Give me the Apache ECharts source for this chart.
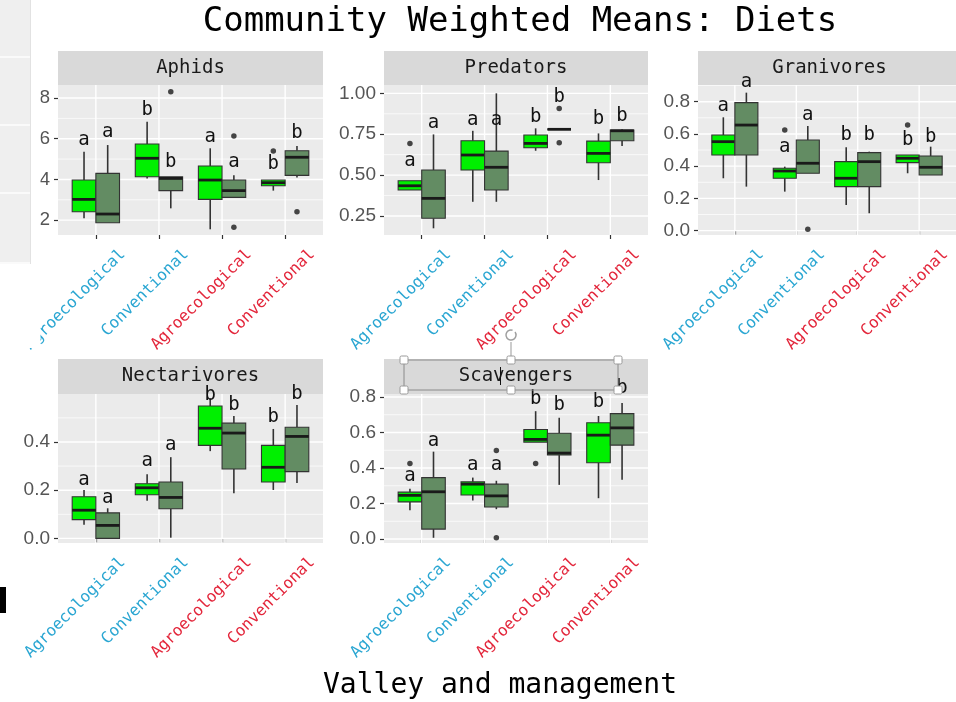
<!DOCTYPE html>
<html><head><meta charset="utf-8">
<script src="https://cdn.jsdelivr.net/npm/echarts@6/dist/echarts.min.js"></script>
<style>html,body{margin:0;padding:0;background:#fff}#c{width:956px;height:702px}</style>
</head><body><div id="c"></div>
<script>
// ---------------- DATA ----------------
const categories = ['Agroecological', 'Conventional', 'Agroecological', 'Conventional'];
const valleyOfCategory = [0, 0, 1, 1];
const panelNames = ['Aphids', 'Predators', 'Granivores', 'Nectarivores', 'Scavengers'];

// box stats per category: [lowerWhisker, Q1, median, Q3, upperWhisker]
const aphidsLight = [[0.209,0.241,0.302,0.397,0.536],[0.405,0.413,0.504,0.574,0.684],[0.155,0.302,0.397,0.466,0.553],[0.345,0.369,0.384,0.397,0.397]];
const aphidsDark  = [[0.187,0.187,0.230,0.430,0.569],[0.258,0.345,0.405,0.413,0.413],[0.312,0.312,0.345,0.397,0.420],[0.410,0.420,0.509,0.541,0.564]];
const aphidsLightOut = [[3,0.540]];
const aphidsDarkOut  = [[1,0.831],[2,0.613],[2,0.165],[3,0.241]];
const aphidsLightLetters = ['a','b','a','b'];
const aphidsDarkLetters  = ['a','b','a','b'];
const aphidsLightLetterY = [0.594,0.741,0.610,0.476];
const aphidsDarkLetterY  = [0.634,0.487,0.487,0.627];
const aphidsTicks = [0.2,0.4,0.6,0.8];

const predatorsLight = [[0.409,0.409,0.435,0.466,0.466],[0.337,0.531,0.623,0.710,0.771],[0.649,0.667,0.694,0.745,0.786],[0.470,0.576,0.633,0.708,0.755]];
const predatorsDark  = [[0.175,0.236,0.358,0.531,0.749],[0.337,0.409,0.548,0.647,1.000],[0.780,0.780,0.780,0.780,0.780],[0.678,0.710,0.771,0.776,0.780]];
const predatorsLightOut = [[0,0.694]];
const predatorsDarkOut  = [[2,0.908],[2,0.698]];
const predatorsLightLetters = ['a','a','b','b'];
const predatorsDarkLetters  = ['a','a','b','b'];
const predatorsLightLetterY = [0.588,0.837,0.857,0.841];
const predatorsDarkLetterY  = [0.820,0.837,0.980,0.861];
const predatorsTicks = [0.25,0.50,0.75,1.00];

const granivoresLight = [[0.325,0.469,0.552,0.593,0.703],[0.242,0.325,0.370,0.387,0.397],[0.159,0.273,0.325,0.428,0.517],[0.356,0.422,0.449,0.469,0.469]];
const granivoresDark  = [[0.273,0.469,0.655,0.794,0.856],[0.356,0.356,0.418,0.562,0.649],[0.108,0.273,0.428,0.484,0.490],[0.345,0.345,0.393,0.463,0.521]];
const granivoresLightOut = [[1,0.624],[3,0.655]];
const granivoresDarkOut  = [[1,0.009]];
const granivoresLightLetters = ['a','a','b','b'];
const granivoresDarkLetters  = ['a','a','b','b'];
const granivoresLightLetterY = [0.773,0.517,0.593,0.562];
const granivoresDarkLetterY  = [0.924,0.717,0.593,0.583];
const granivoresTicks = [0.0,0.2,0.4,0.6,0.8];

const nectarivoresLight = [[0.057,0.078,0.117,0.173,0.201],[0.156,0.181,0.210,0.227,0.266],[0.362,0.386,0.457,0.549,0.581],[0.201,0.234,0.295,0.386,0.454]];
const nectarivoresDark  = [[0.000,0.000,0.054,0.106,0.125],[0.003,0.123,0.170,0.234,0.337],[0.187,0.288,0.437,0.478,0.508],[0.230,0.277,0.423,0.461,0.553]];
const nectarivoresLightOut = [];
const nectarivoresDarkOut  = [];
const nectarivoresLightLetters = ['a','a','b','b'];
const nectarivoresDarkLetters  = ['a','a','b','b'];
const nectarivoresLightLetterY = [0.244,0.319,0.596,0.503];
const nectarivoresDarkLetterY  = [0.167,0.386,0.553,0.598];
const nectarivoresTicks = [0.0,0.2,0.4];

const scavengersLight = [[0.162,0.209,0.246,0.264,0.283],[0.217,0.248,0.309,0.322,0.346],[0.546,0.546,0.561,0.617,0.720],[0.230,0.430,0.585,0.655,0.693]];
const scavengersDark  = [[0.007,0.056,0.266,0.346,0.492],[0.168,0.180,0.243,0.309,0.328],[0.305,0.473,0.484,0.596,0.683],[0.334,0.529,0.626,0.706,0.766]];
const scavengersLightOut = [[0,0.425],[2,0.425]];
const scavengersDarkOut  = [[1,0.498],[1,0.007]];
const scavengersLightLetters = ['a','a','b','b'];
const scavengersDarkLetters  = ['a','a','b','b'];
const scavengersLightLetterY = [0.354,0.417,0.787,0.770];
const scavengersDarkLetterY  = [0.553,0.417,0.752,0.850];
const scavengersTicks = [0.0,0.2,0.4,0.6,0.8];

// ---------------- STYLE / LAYOUT ----------------
const LIGHT = '#00F000', DARK = '#638C63', CYAN = '#2AA6D2', RED = '#E3263B';
const HALF = 0.1875;       // box offset (units)
const LABEL_SHIFT = 0.43;  // x label anchor shift (units)
const MONO = '"DejaVu Sans Mono", "Liberation Mono", monospace';

const panels = [
  {light:aphidsLight, dark:aphidsDark, lo:aphidsLightOut, dout:aphidsDarkOut, ll:aphidsLightLetters, dl:aphidsDarkLetters, ly:aphidsLightLetterY, dy:aphidsDarkLetterY, ticks:aphidsTicks, min:0.127, max:0.864, dec:1, box:[58,85,265,150]},
  {light:predatorsLight, dark:predatorsDark, lo:predatorsLightOut, dout:predatorsDarkOut, ll:predatorsLightLetters, dl:predatorsDarkLetters, ly:predatorsLightLetterY, dy:predatorsDarkLetterY, ticks:predatorsTicks, min:0.134, max:1.051, dec:2, box:[384,85,264,150]},
  {light:granivoresLight, dark:granivoresDark, lo:granivoresLightOut, dout:granivoresDarkOut, ll:granivoresLightLetters, dl:granivoresDarkLetters, ly:granivoresLightLetterY, dy:granivoresDarkLetterY, ticks:granivoresTicks, min:-0.027, max:0.9035, dec:1, box:[698,85,263,150]},
  {light:nectarivoresLight, dark:nectarivoresDark, lo:nectarivoresLightOut, dout:nectarivoresDarkOut, ll:nectarivoresLightLetters, dl:nectarivoresDarkLetters, ly:nectarivoresLightLetterY, dy:nectarivoresDarkLetterY, ticks:nectarivoresTicks, min:-0.019, max:0.599, dec:1, box:[58,394,265,149]},
  {light:scavengersLight, dark:scavengersDark, lo:scavengersLightOut, dout:scavengersDarkOut, ll:scavengersLightLetters, dl:scavengersDarkLetters, ly:scavengersLightLetterY, dy:scavengersDarkLetterY, ticks:scavengersTicks, min:-0.0224, max:0.8168, dec:1, box:[384,394,264,149]}
];

function renderGrid(params, api) {
  const cs = params.coordSys;
  const kind = api.value(2);
  if (kind === 2) {
    const x = api.coord([api.value(0), api.value(1)])[0];
    return {type:'line', shape:{x1:x, y1:cs.y, x2:x, y2:cs.y + cs.height}, style:{stroke:'#fff', lineWidth:1.4}};
  }
  const y = api.coord([api.value(0), api.value(1)])[1];
  return {type:'line', shape:{x1:cs.x, y1:y, x2:cs.x + cs.width, y2:y}, style:{stroke:'#fff', lineWidth: kind === 0 ? 1.4 : 0.7}};
}

function renderBox(params, api) {
  const x = api.value(0);
  const pMin = api.coord([x, api.value(1)]);
  const pQ1 = api.coord([x, api.value(2)]);
  const pMed = api.coord([x, api.value(3)]);
  const pQ3 = api.coord([x, api.value(4)]);
  const pMax = api.coord([x, api.value(5)]);
  const l = api.coord([x - HALF, api.value(3)])[0];
  const r = api.coord([x + HALF, api.value(3)])[0];
  const fill = api.visual('color');
  return {type:'group', children:[
    {type:'line', shape:{x1:pMin[0], y1:pMin[1], x2:pQ1[0], y2:pQ1[1]}, style:{stroke:'#333', lineWidth:1.6}},
    {type:'line', shape:{x1:pQ3[0], y1:pQ3[1], x2:pMax[0], y2:pMax[1]}, style:{stroke:'#333', lineWidth:1.6}},
    {type:'rect', shape:{x:l, y:pQ3[1], width:r - l, height:Math.max(pQ1[1] - pQ3[1], 0)}, style:{fill:fill, stroke:'#333', lineWidth:1.1}},
    {type:'line', shape:{x1:l, y1:pMed[1], x2:r, y2:pMed[1]}, style:{stroke:'#1a1a1a', lineWidth:2.8}}
  ]};
}

function letterRenderer(letters) {
  return function (params, api) {
    const p = api.coord([api.value(0), api.value(1)]);
    return {type:'text', x:p[0], y:p[1], style:{text:letters[params.dataIndex], font:'19px ' + MONO, fill:'#111', align:'center', verticalAlign:'middle'}};
  };
}

const grid = [], xAxis = [], yAxis = [], series = [], graphic = [];
panels.forEach((p, k) => {
  const [L, T, W, H] = p.box;
  grid.push({left:L, top:T, width:W, height:H, show:true, backgroundColor:'#EBEBEB', borderWidth:0, containLabel:false});
  xAxis.push({gridIndex:k, type:'value', min:0.4, max:4.6,
    axisLine:{show:false}, splitLine:{show:false},
    axisTick:{show:true, customValues:[1,2,3,4], length:4, lineStyle:{color:'#333', width:1.2}},
    axisLabel:{show:true, customValues:[1,2,3,4].map(v => v + LABEL_SHIFT), rotate:45, margin:17,
      fontFamily:'DejaVu Sans Mono', fontSize:16,
      formatter: v => categories[Math.round(v - LABEL_SHIFT) - 1],
      color: v => valleyOfCategory[Math.round(parseFloat(v) - LABEL_SHIFT) - 1] === 0 ? CYAN : RED}});
  yAxis.push({gridIndex:k, type:'value', min:p.min, max:p.max,
    axisLine:{show:false}, splitLine:{show:false},
    axisTick:{show:true, customValues:p.ticks, length:4, lineStyle:{color:'#333', width:1.2}},
    axisLabel:{customValues:p.ticks, margin:8, color:'#555', fontFamily:'Liberation Sans', fontSize:19,
      formatter: v => Number(v).toFixed(p.dec)}});
  // gridlines
  const step = p.ticks[1] - p.ticks[0];
  const gl = [];
  p.ticks.forEach(t => gl.push([1, t, 0]));
  const minors = [p.ticks[0] - step / 2].concat(p.ticks.map(t => t + step / 2));
  minors.forEach(m => { if (m > p.min && m < p.max) gl.push([1, m, 1]); });
  [1,2,3,4].forEach(c => gl.push([c, p.ticks[0], 2]));
  series.push({type:'custom', xAxisIndex:k, yAxisIndex:k, data:gl, z:1, silent:true, renderItem:renderGrid, encode:{x:0, y:1}});
  // boxes
  series.push({type:'custom', xAxisIndex:k, yAxisIndex:k, z:2, itemStyle:{color:LIGHT}, renderItem:renderBox,
    data:p.light.map((b, i) => [i + 1 - HALF].concat(b)), encode:{x:0, y:[1,2,3,4,5]}});
  series.push({type:'custom', xAxisIndex:k, yAxisIndex:k, z:2, itemStyle:{color:DARK}, renderItem:renderBox,
    data:p.dark.map((b, i) => [i + 1 + HALF].concat(b)), encode:{x:0, y:[1,2,3,4,5]}});
  // outliers
  series.push({type:'scatter', xAxisIndex:k, yAxisIndex:k, z:3, clip:false, symbolSize:5.5, itemStyle:{color:'#1a1a1a'},
    data:p.lo.map(o => [o[0] + 1 - HALF, o[1]]).concat(p.dout.map(o => [o[0] + 1 + HALF, o[1]]))});
  // letters
  series.push({type:'custom', xAxisIndex:k, yAxisIndex:k, z:4, clip:false, renderItem:letterRenderer(p.ll),
    data:p.ly.map((y, i) => [i + 1 - HALF, y]), encode:{x:0, y:1}});
  series.push({type:'custom', xAxisIndex:k, yAxisIndex:k, z:4, clip:false, renderItem:letterRenderer(p.dl),
    data:p.dy.map((y, i) => [i + 1 + HALF, y]), encode:{x:0, y:1}});
  // strip
  const sh = k < 3 ? 34 : 35;
  graphic.push({type:'rect', z:0, shape:{x:L, y:T - sh, width:W, height:sh}, style:{fill:'#D9D9D9'}});
  graphic.push({type:'text', z:1, x:L + W / 2, y:T - sh / 2, style:{text:panelNames[k], font:'19px ' + MONO, fill:'#1a1a1a', align:'center', verticalAlign:'middle'}});
});

graphic.push({type:'text', x:520, y:22, style:{text:'Community Weighted Means: Diets', font:'34px ' + MONO, fill:'#000', align:'center', verticalAlign:'middle'}});
graphic.push({type:'text', x:500, y:686, style:{text:'Valley and management', font:'28px ' + MONO, fill:'#000', align:'center', verticalAlign:'middle'}});

// screenshot artefacts
graphic.push({type:'rect', z:100, shape:{x:0, y:80, width:40.5, height:268}, style:{fill:'#fff'}});
graphic.push({type:'rect', z:100, shape:{x:0, y:0, width:30, height:264}, style:{fill:'#EFEFEF'}});
[57, 125, 193, 263].forEach(y => graphic.push({type:'line', z:101, shape:{x1:0, y1:y, x2:30, y2:y}, style:{stroke:'#FAFAFA', lineWidth:2}}));
graphic.push({type:'line', z:101, shape:{x1:30.5, y1:0, x2:30.5, y2:264}, style:{stroke:'#E2E2E2', lineWidth:1}});
graphic.push({type:'rect', z:100, shape:{x:0, y:587, width:6, height:26}, style:{fill:'#000'}});
graphic.push({type:'rect', z:100, shape:{x:404, y:360, width:214, height:30}, style:{fill:'none', stroke:'#8A8A8A', lineWidth:1}});
graphic.push({type:'line', z:100, shape:{x1:511, y1:342, x2:511, y2:357}, style:{stroke:'#999', lineWidth:1}});
graphic.push({type:'arc', z:100, shape:{cx:511, cy:335, r:5, startAngle:-0.2 * Math.PI, endAngle:1.6 * Math.PI}, style:{fill:'none', stroke:'#A0A0A0', lineWidth:1.5}});
[[404,360],[511,360],[618,360],[404,390],[511,390],[618,390]].forEach(h => graphic.push({type:'rect', z:101, shape:{x:h[0] - 4, y:h[1] - 4, width:8, height:8, r:1.5}, style:{fill:'#fff', stroke:'#9A9A9A', lineWidth:1}}));
graphic.push({type:'line', z:101, shape:{x1:500.5, y1:367, x2:500.5, y2:385}, style:{stroke:'#111', lineWidth:1}});

const chart = echarts.init(document.getElementById('c'), null, {renderer:'canvas'});
chart.setOption({animation:false, backgroundColor:'#fff', grid, xAxis, yAxis, series, graphic});
</script>
</body></html>
